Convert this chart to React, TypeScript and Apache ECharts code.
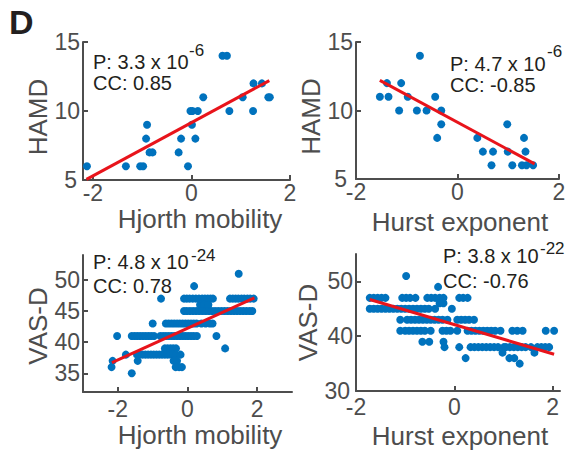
import React, { useEffect, useRef } from "react";
import * as echarts from "echarts";

// ---------- data ----------
const hjorthForHamd = [-2.12, -1.33, -1.04, -0.98, -0.9, -0.92, -0.85, -0.79, -0.26, -0.21, -0.07, -0.02, 0.02, 0.01, 0.13, 0.08, 0.24, 0.63, 0.72, 0.77, 1.04, 1.25, 1.26, 1.43, 1.56, 1.59];
const hamdByHjorth = [6, 6, 6, 6, 9, 8, 7, 7, 7, 8, 6, 10, 10, 9, 10, 8, 11, 14, 14, 10, 11, 10, 12, 12, 11, 11];

const hurstForHamd = [-1.53, -1.39, -1.36, -1.11, -1.15, -0.98, -0.74, -0.8, -0.61, -0.44, -0.32, -0.32, -0.4, 0.39, 0.5, 0.7, 0.67, 0.98, 0.99, 1.08, 1.31, 1.34, 1.27, 1.36, 1.49];
const hamdByHurst = [11, 12, 11, 12, 10, 11, 14, 10, 10, 11, 10, 9, 8, 8, 7, 7, 6, 9, 7, 6, 8, 7, 6, 6, 6];

// VAS-D level -> Hjorth mobility values of the subjects at that level
const vasRowsHjorth: [number, number[]][] = [
  [51, [1.47]],
  [49, [0.19]],
  [47, [-0.76, -0.1, -0.02, 0.06, 0.15, 0.24, 0.33, 0.42, 0.5, 0.58, 0.66, 0.73, 1.22, 1.3, 1.38, 1.46, 1.55, 1.63, 1.72, 1.8, 1.9]],
  [46, [0.36, 0.48, 0.6]],
  [45, [-0.1, -0.02, 0.07, 0.16, 0.25, 0.34, 0.43, 0.52, 0.61, 0.7, 0.79, 0.88, 0.97, 1.06, 1.15, 1.24, 1.33, 1.42, 1.51, 1.6, 1.69, 1.78, 1.86]],
  [43, [-1.0, -0.62, -0.54, -0.46, -0.38, -0.3, -0.22, -0.14, -0.06, 0.02, 0.1, 0.18, 0.26, 0.4, 0.52, 0.64, 0.72]],
  [41, [-2.02, -1.6, -1.52, -1.44, -1.36, -1.28, -1.2, -1.12, -1.04, -0.96, -0.78, -0.7, -0.62, -0.54, -0.46, -0.38, -0.3, -0.22, -0.14, -0.06, 0.02, 0.1, 0.18, 0.27, 0.83]],
  [39, [-0.65, -0.57, -0.49, -0.41, -0.33, 1.08]],
  [38, [-1.77, -1.45, -1.37, -1.29, -1.21, -1.13, -1.05, -0.97, -0.89, -0.81, -0.73, -0.65, -0.57, -0.49, -0.41, -0.33, -0.2]],
  [37, [-2.15, -1.43, -0.4, -0.3]],
  [36, [-2.18, -0.34, -0.24, -0.16]],
  [35, [-1.6]],
];

// VAS-D level -> Hurst exponent values
const vasRowsHurst: [number, number[]][] = [
  [51, [-0.98]],
  [49, [-0.33]],
  [47, [-1.72, -1.64, -1.56, -1.48, -1.4, -1.06, -0.98, -0.9, -0.79, -0.55, -0.47, -0.39, -0.3, -0.22, 0.1, 0.18, 0.27]],
  [46, [-0.3, -0.22]],
  [45, [-1.72, -1.64, -1.56, -1.48, -1.4, -1.32, -1.24, -1.16, -1.08, -1.0, -0.92, -0.84, -0.76, -0.68, -0.6, -0.52, -0.39, -0.05]],
  [43, [-1.1, -0.96, -0.88, -0.8, -0.72, -0.64, -0.56, -0.48, -0.4, -0.32, -0.24, -0.14, 0.06, 0.14, 0.22, 0.3, 0.4]],
  [41, [-1.1, -1.0, -0.92, -0.84, -0.76, -0.68, -0.6, -0.48, -0.24, -0.16, -0.08, 0.06, 0.27, 0.35, 0.43, 0.51, 0.59, 0.67, 0.75, 0.83, 0.94, 1.18, 1.28, 1.39, 1.86, 2.03]],
  [39, [-0.65, -0.51, -0.22]],
  [38, [-0.2, 0.1, 0.33, 0.41, 0.49, 0.57, 0.65, 0.73, 0.81, 0.89, 1.01, 1.05, 1.13, 1.21, 1.29, 1.37, 1.45, 1.56, 1.69, 1.77, 1.85, 1.93]],
  [37, [0.98, 1.63]],
  [36, [0.23, 1.12, 1.22]],
  [35, [1.33]],
];

// regression lines (end points)
const fitHjorthHamdX = [-2.13, 1.58];
const fitHjorthHamdY = [5.05, 12.2];
const fitHurstHamdX = [-1.53, 1.52];
const fitHurstHamdY = [12.2, 6.1];
const fitHjorthVasX = [-2.17, 1.92];
const fitHjorthVasY = [36.7, 47.1];
const fitHurstVasX = [-1.72, 2.03];
const fitHurstVasY = [46.7, 36.7];

// axes
const xNames = ["Hjorth mobility", "Hurst exponent", "Hjorth mobility", "Hurst exponent"];
const yNames = ["HAMD", "HAMD", "VAS-D", "VAS-D"];
const xRanges = [[-2.2, 2], [-2, 2], [-3, 3], [-2, 2.15]];
const yRanges = [[5, 15], [5, 15], [32, 54], [30, 55]];
const xTicks = [[-2, 0, 2], [-2, 0, 2], [-2, 0, 2], [-2, 0, 2]];
const yTicks = [[5, 10, 15], [5, 10, 15], [35, 40, 45, 50], [30, 40, 50]];

// annotations
const pTexts = ["P: 3.3 x 10", "P: 4.7 x 10", "P: 4.8 x 10", "P: 3.8 x 10"];
const pExponents = ["-6", "-6", "-24", "-22"];
const ccTexts = ["CC: 0.85", "CC: -0.85", "CC: 0.78", "CC: -0.76"];
const panelLetter = "D";

// ---------- layout / style ----------
const FONT = "'Liberation Sans', Arial, Helvetica, sans-serif";
const GREY = "#4d4d4d";
const DARK = "#231f20";
const BLUE = "#0072BD";
const RED = "#E8141B";

const grids = [
  { left: 83, top: 42, width: 207, height: 138 },
  { left: 356, top: 42, width: 203, height: 137 },
  { left: 83, top: 255, width: 209, height: 137 },
  { left: 356, top: 254, width: 204, height: 137 },
];
const xLabelMargin = [1, 1, 5, 4];
const xNameGap = [26, 30, 30, 32];
const xNamePadLeft = [27, 5, 25, 4];
const yNameGap = [32, 29, 32, 29];
const yNamePad = [12, 12, 5, 0];
const yMinLabelShift = [3, 6, 0, 3];

// annotation positions: [left, pMid, supLeft, supMid]
const annoPos = [
  [93, 61.5, 189, 50],
  [450, 63.5, 547, 51],
  [93, 262, 191, 255],
  [443, 256, 540, 248],
];
const ccMid = [82.5, 85, 285.5, 280.5];

function rowsToPoints(rows: [number, number[]][]) {
  const pts: number[][] = [];
  rows.forEach(([y, xs]) => xs.forEach((x) => pts.push([x, y])));
  return pts;
}

export default function App() {
  const ref = useRef<HTMLDivElement>(null);
  useEffect(() => {
    if (!ref.current) return;
    const chart = echarts.init(ref.current, null, { renderer: "svg" });

    const scatterData = [
      hjorthForHamd.map((x, i) => [x, hamdByHjorth[i]]),
      hurstForHamd.map((x, i) => [x, hamdByHurst[i]]),
      rowsToPoints(vasRowsHjorth),
      rowsToPoints(vasRowsHurst),
    ];
    const fits = [
      [fitHjorthHamdX, fitHjorthHamdY],
      [fitHurstHamdX, fitHurstHamdY],
      [fitHjorthVasX, fitHjorthVasY],
      [fitHurstVasX, fitHurstVasY],
    ];

    const xAxis = grids.map((_, i) => ({
      type: "value",
      gridIndex: i,
      min: xRanges[i][0],
      max: xRanges[i][1],
      name: xNames[i],
      nameLocation: "middle",
      nameGap: xNameGap[i],
      nameTextStyle: { fontSize: 26, color: GREY, fontFamily: FONT, padding: [0, 0, 0, xNamePadLeft[i]] },
      splitLine: { show: false },
      axisLine: { show: true, onZero: false, lineStyle: { color: GREY, width: 2 } },
      axisTick: { show: true, inside: true, length: 5, customValues: xTicks[i], lineStyle: { color: GREY, width: 2 } },
      axisLabel: { customValues: xTicks[i], fontSize: 23, color: GREY, fontFamily: FONT, margin: xLabelMargin[i] },
    }));
    const yAxis = grids.map((_, i) => ({
      type: "value",
      gridIndex: i,
      min: yRanges[i][0],
      max: yRanges[i][1],
      name: yNames[i],
      nameLocation: "middle",
      nameGap: yNameGap[i],
      nameTextStyle: { fontSize: 26, color: GREY, fontFamily: FONT, padding: [0, yNamePad[i], 0, 0] },
      splitLine: { show: false },
      axisLine: { show: true, onZero: false, lineStyle: { color: GREY, width: 2 } },
      axisTick: { show: true, inside: true, length: 5, customValues: yTicks[i], lineStyle: { color: GREY, width: 2 } },
      axisLabel: {
        customValues: yTicks[i],
        fontSize: 23,
        color: GREY,
        fontFamily: FONT,
        margin: 3,
        formatter: (v: number) =>
          v === yTicks[i][0] && yMinLabelShift[i] ? `{s|${v}}` : `${v}`,
        rich: {
          s: { fontSize: 23, color: GREY, fontFamily: FONT, padding: [0, yMinLabelShift[i], 0, 0] },
        },
      },
    }));

    const series: any[] = [];
    grids.forEach((_, i) => {
      series.push({
        type: "scatter",
        xAxisIndex: i,
        yAxisIndex: i,
        data: scatterData[i],
        symbolSize: 8,
        itemStyle: { color: BLUE, opacity: 1 },
        z: 2,
      });
      series.push({
        type: "line",
        xAxisIndex: i,
        yAxisIndex: i,
        data: fits[i][0].map((x, k) => [x, fits[i][1][k]]),
        symbol: "none",
        showSymbol: false,
        lineStyle: { color: RED, width: 3 },
        z: 3,
      });
    });

    const textEl = (text: string, x: number, y: number, size: number, color: string, weight = "normal") => ({
      type: "text",
      x,
      y,
      z: 10,
      style: {
        text,
        fill: color,
        fontSize: size,
        fontFamily: FONT,
        fontWeight: weight,
        lineHeight: Math.round(size * 0.9),
        align: "left",
        verticalAlign: "middle",
        textAlign: "left",
        textVerticalAlign: "middle",
      },
    });

    const graphic: any[] = [textEl(panelLetter, 9, 22, 34, DARK, "bold")];
    annoPos.forEach((p, i) => {
      graphic.push(textEl(pTexts[i], p[0], p[1], 20, DARK));
      graphic.push(textEl(pExponents[i], p[2], p[3], 17, DARK));
      graphic.push(textEl(ccTexts[i], p[0], ccMid[i], 20, DARK));
    });

    chart.setOption({
      animation: false,
      backgroundColor: "#ffffff",
      grid: grids.map((g) => ({ ...g, containLabel: false })),
      xAxis,
      yAxis,
      series,
      graphic,
    });
    return () => chart.dispose();
  }, []);
  return (
    <div
      ref={ref}
      style={{ position: "absolute", left: 0, top: 0, width: 570, height: 453, background: "#fff" }}
    />
  );
}
